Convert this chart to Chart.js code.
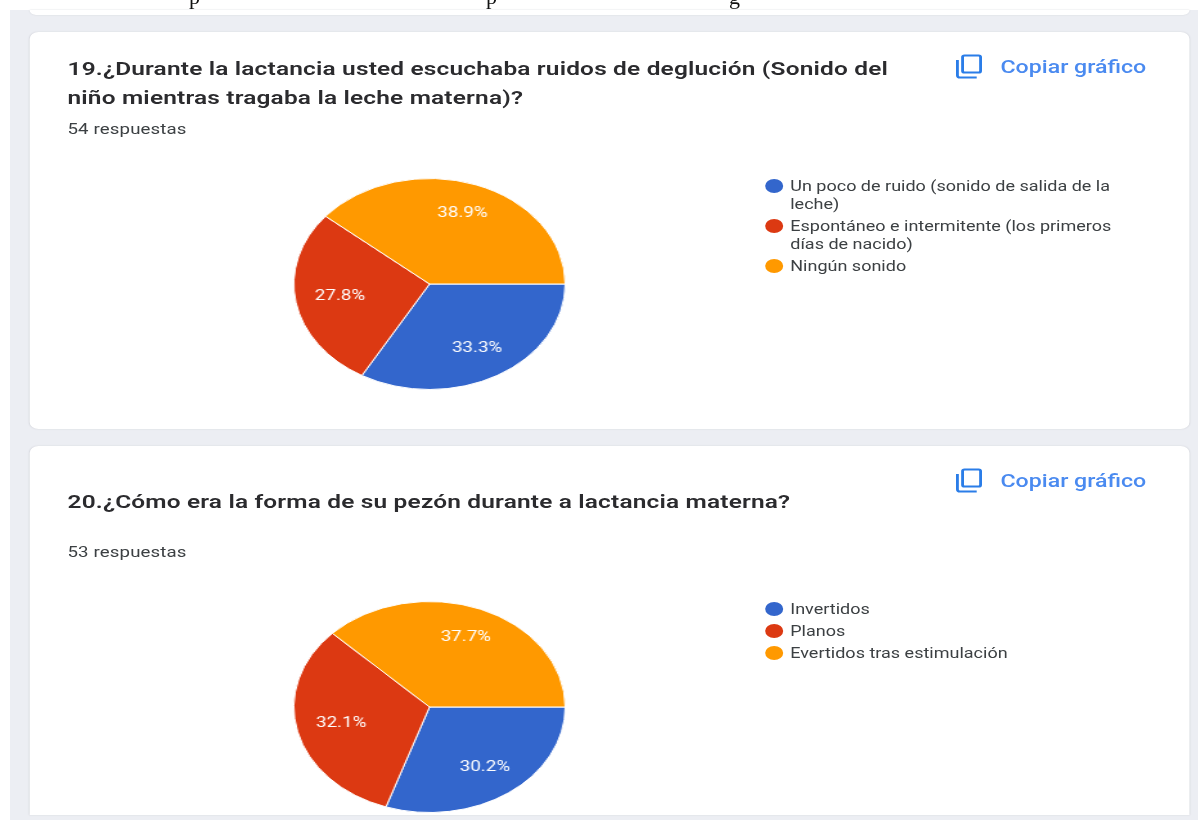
<!DOCTYPE html>
<html lang="es"><head><meta charset="utf-8">
<script src="https://cdn.jsdelivr.net/npm/chart.js@4"></script>
<style>
html,body{margin:0;padding:0;background:#fff;overflow:hidden}
#page{position:absolute;left:0;top:0;width:1198px;height:820px;overflow:hidden;background:#fff}
#bg{position:absolute;left:10px;top:10px;width:1188px;height:810px;background:#eceef3}
#stage{position:absolute;left:0;top:0;width:932px;height:820px;transform-origin:0 0;transform:scaleX(1.286);filter:blur(.45px);font-family:Roboto,sans-serif;color:#202124}
.card{position:absolute;left:23px;width:901.5px;background:#fff;border-radius:7px;box-shadow:0 0 1.5px #cfd1d7}
.abs{position:absolute;white-space:nowrap}
.title{font-size:19px;letter-spacing:.14px;font-weight:600;line-height:29px;left:52.5px;color:#2b2b2e}
.sub{font-size:14.5px;letter-spacing:.1px;left:52.5px;color:#3c4043}
.copy{font-size:18px;font-weight:500;color:#4a8af0;left:778px}
.lg{font-size:14px;line-height:18px;color:#3c4043;left:614.5px;white-space:pre}
.dot{position:absolute;left:594.5px;width:14px;height:14px;border-radius:50%}
canvas{position:absolute;left:228px}
svg{position:absolute;left:743px}
.frag{position:absolute;font-family:"Liberation Serif",serif;font-size:22px;line-height:22px;color:#111;top:-14px}
</style></head><body>
<div id="page"><div id="bg"></div>
<div id="stage">
 <div class="card" style="top:10px;height:5px;border-radius:0 0 7px 7px"></div>
 <div class="card" style="top:32px;height:397px"></div>
 <div class="card" style="top:446px;height:369px;border-radius:7px 7px 0 0"></div>
 <div id="content"></div>
</div>
<div class="frag" style="left:189px">p</div><div class="frag" style="left:486px">p</div><div class="frag" style="left:729px">g</div>
</div>
<script>
const sliceColors = ['#3366cc', '#dc3912', '#ff9900'];

const title19 = ['19.¿Durante la lactancia usted escuchaba ruidos de deglución (Sonido del', 'niño mientras tragaba la leche materna)?'];
const responses19 = '54 respuestas';
const categories19 = [['Un poco de ruido (sonido de salida de la', 'leche)'], ['Espontáneo e intermitente (los primeros', 'días de nacido)'], ['Ningún sonido']];
const values19 = [33.3, 27.8, 38.9];

const title20 = ['20.¿Cómo era la forma de su pezón durante a lactancia materna?'];
const responses20 = '53 respuestas';
const categories20 = [['Invertidos'], ['Planos'], ['Evertidos tras estimulación']];
const values20 = [30.2, 32.1, 37.7];

const copyLabel = 'Copiar gráfico';

const content = document.getElementById('content');
function add(cls, text, top, extra) {
  const d = document.createElement('div');
  d.className = 'abs ' + cls; d.textContent = text; d.style.top = top + 'px';
  if (extra) Object.assign(d.style, extra);
  content.appendChild(d); return d;
}
function copyIcon(top) {
  content.insertAdjacentHTML('beforeend',
   `<svg style="top:${top}px" width="21" height="25" viewBox="0 0 21 25" fill="none" stroke="#2a7de8" stroke-width="2.2"><rect x="5.5" y="1.5" width="14" height="17" rx="1.5"/><path d="M1.5 6v15.5a2 2 0 0 0 2 2h13"/></svg>`);
}
const labelRadius = [0.70, 0.67, 0.71];
const labelPlugin = {
  id: 'pctLabels',
  afterDatasetsDraw(chart) {
    const ctx = chart.ctx, meta = chart.getDatasetMeta(0), data = chart.data.datasets[0].data;
    ctx.save();
    ctx.fillStyle = '#fff'; ctx.font = '400 14.6px Roboto'; ctx.textAlign = 'center'; ctx.textBaseline = 'middle';
    meta.data.forEach((arc, i) => {
      const a = (arc.startAngle + arc.endAngle) / 2, r = arc.outerRadius * labelRadius[i];
      ctx.fillText(data[i].toFixed(1) + '%', arc.x + Math.cos(a) * r, arc.y + Math.sin(a) * r);
    });
    ctx.restore();
  }
};
function block(o) {
  o.title.forEach((t, i) => add('title', t, o.titleTop + i * 29));
  add('sub', o.responses, o.subTop);
  copyIcon(o.iconTop);
  add('copy', copyLabel, o.copyTop);
  let y = o.legendTop;
  o.categories.forEach((lines, i) => {
    const dot = document.createElement('div');
    dot.className = 'dot'; dot.style.top = (y + 2) + 'px'; dot.style.background = sliceColors[i];
    content.appendChild(dot);
    add('lg', lines.join('\n'), y);
    y += lines.length * 18 + 4.4;
  });
  const c = document.createElement('canvas');
  c.style.top = o.pieTop + 'px';
  content.appendChild(c);
  c.width = 212; c.height = 212;
  new Chart(c, {
    type: 'pie',
    data: { labels: o.categories.map(l => l.join(' ')), datasets: [{ data: o.values, backgroundColor: sliceColors, borderColor: '#fff', borderWidth: 1 }] },
    options: { responsive: false, animation: false, rotation: 90, layout: { padding: 0 }, plugins: { legend: { display: false }, tooltip: { enabled: false } } },
    plugins: [labelPlugin]
  });
}
block({ title: title19, responses: responses19, categories: categories19, values: values19, titleTop: 54, subTop: 121, iconTop: 54, copyTop: 56, legendTop: 176.5, pieTop: 178 });
block({ title: title20, responses: responses20, categories: categories20, values: values20, titleTop: 487, subTop: 544, iconTop: 468, copyTop: 470, legendTop: 599.5, pieTop: 601 });
</script>
</body></html>
